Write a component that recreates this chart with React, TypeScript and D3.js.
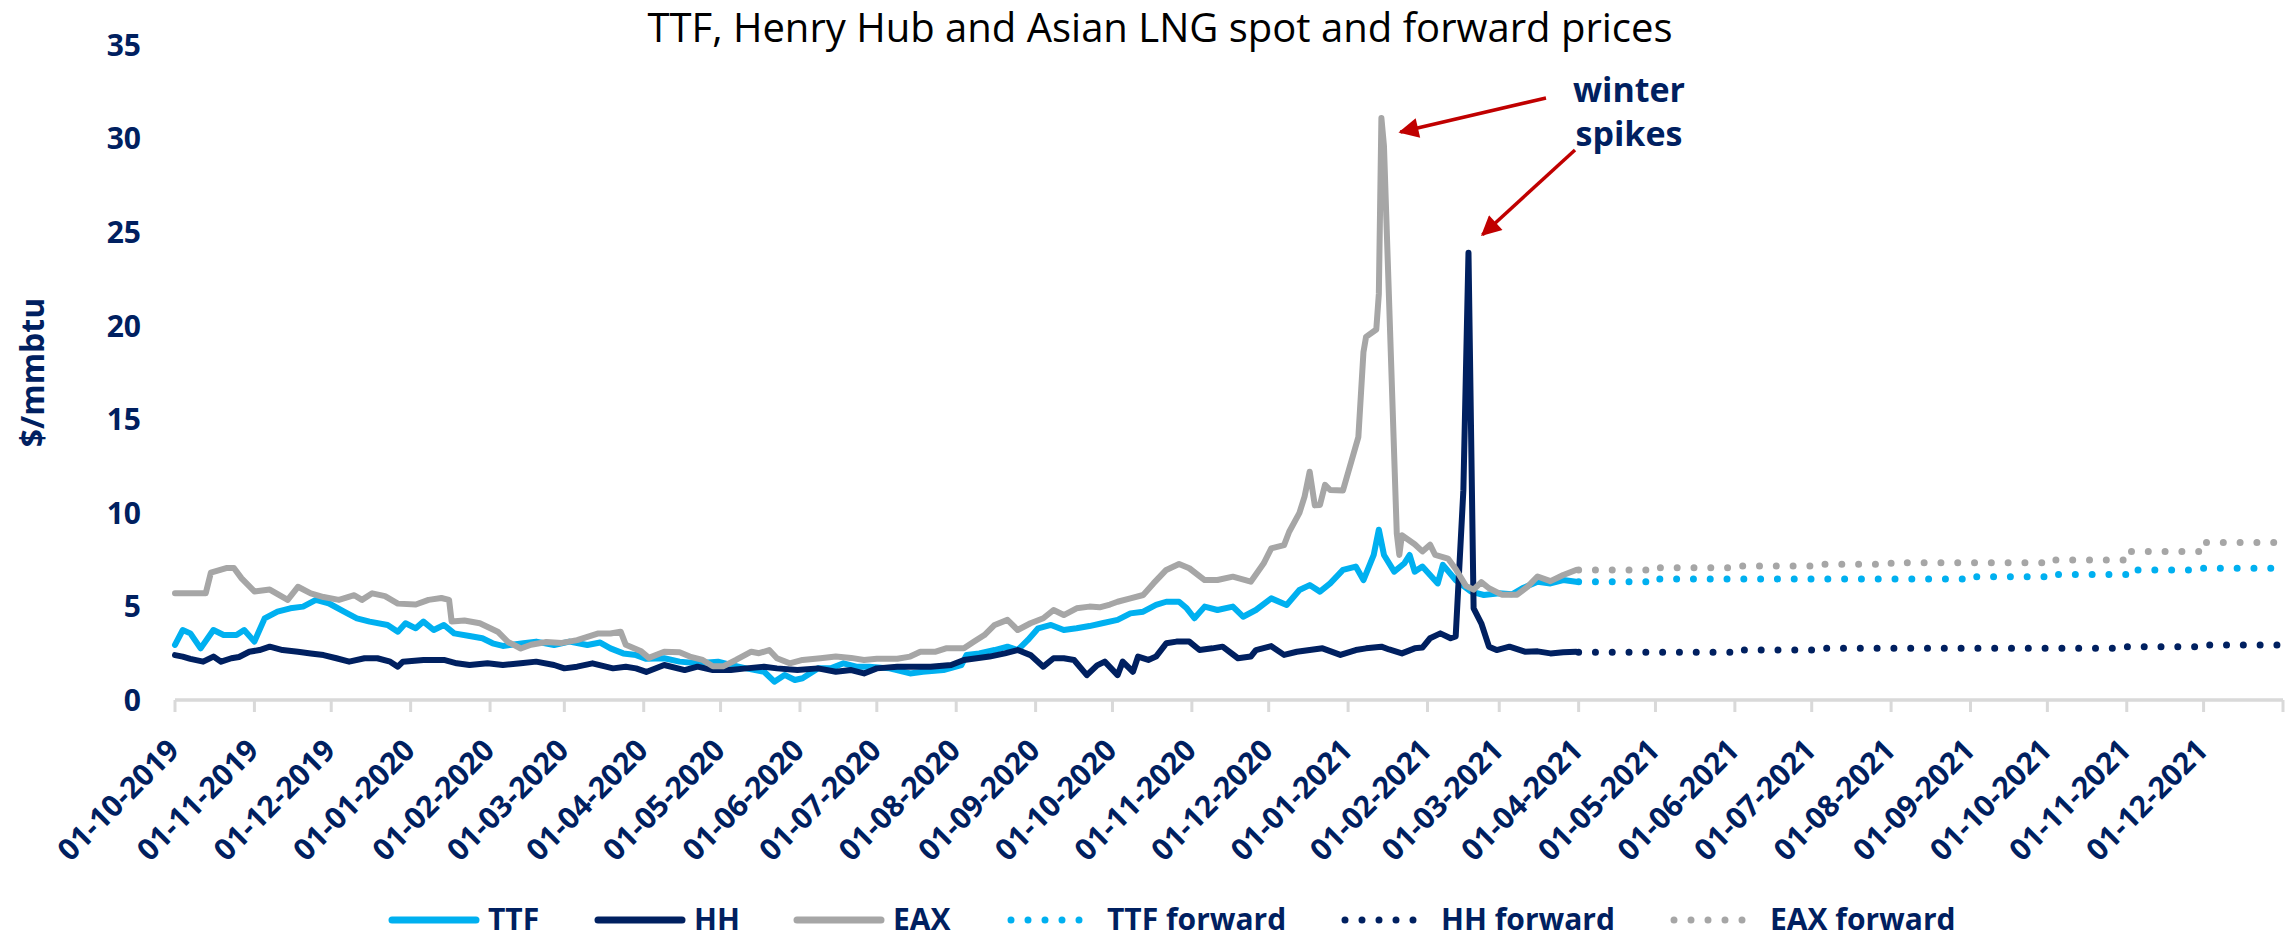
import React from 'react';
import * as d3 from 'd3';

// ---------- DATA ----------
const ttfSpot: [string, number][] = [
  ['2019-10-01', 2.94], ['2019-10-04', 3.74], ['2019-10-07', 3.56], ['2019-10-11', 2.76], ['2019-10-16', 3.74],
  ['2019-10-20', 3.47], ['2019-10-25', 3.47], ['2019-10-28', 3.74], ['2019-11-01', 3.12], ['2019-11-05', 4.36],
  ['2019-11-10', 4.72], ['2019-11-15', 4.9], ['2019-11-20', 4.99], ['2019-11-25', 5.35], ['2019-11-30', 5.17],
  ['2019-12-06', 4.72], ['2019-12-11', 4.36], ['2019-12-16', 4.19], ['2019-12-23', 4.01], ['2019-12-27', 3.65],
  ['2019-12-30', 4.1], ['2020-01-03', 3.83], ['2020-01-06', 4.19], ['2020-01-10', 3.74], ['2020-01-14', 4.01],
  ['2020-01-18', 3.56], ['2020-01-24', 3.42], ['2020-01-29', 3.3], ['2020-02-02', 3.03], ['2020-02-06', 2.89],
  ['2020-02-14', 3.03], ['2020-02-19', 3.12], ['2020-02-26', 2.94], ['2020-03-03', 3.12], ['2020-03-10', 2.94],
  ['2020-03-15', 3.07], ['2020-03-19', 2.76], ['2020-03-24', 2.49], ['2020-03-29', 2.4], ['2020-04-02', 2.2],
  ['2020-04-09', 2.23], ['2020-04-15', 2.05], ['2020-04-22', 1.96], ['2020-04-30', 2.05], ['2020-05-05', 1.87],
  ['2020-05-11', 1.69], ['2020-05-18', 1.51], ['2020-05-22', 0.98], ['2020-05-26', 1.34], ['2020-05-30', 1.07],
  ['2020-06-02', 1.16], ['2020-06-08', 1.69], ['2020-06-13', 1.69], ['2020-06-18', 1.96], ['2020-06-23', 1.78],
  ['2020-06-28', 1.78], ['2020-07-06', 1.69], ['2020-07-14', 1.42], ['2020-07-19', 1.51], ['2020-07-27', 1.6],
  ['2020-08-03', 1.87], ['2020-08-05', 2.4], ['2020-08-10', 2.49], ['2020-08-16', 2.67], ['2020-08-21', 2.85],
  ['2020-08-25', 2.67], ['2020-08-29', 3.21], ['2020-09-02', 3.83], ['2020-09-07', 4.01], ['2020-09-12', 3.74],
  ['2020-09-17', 3.83], ['2020-09-22', 3.95], ['2020-09-27', 4.1], ['2020-10-03', 4.28], ['2020-10-08', 4.63],
  ['2020-10-13', 4.72], ['2020-10-18', 5.08], ['2020-10-22', 5.25], ['2020-10-27', 5.25], ['2020-10-30', 4.9],
  ['2020-11-02', 4.37], ['2020-11-06', 4.99], ['2020-11-11', 4.81], ['2020-11-17', 4.99], ['2020-11-21', 4.45],
  ['2020-11-26', 4.81], ['2020-12-02', 5.43], ['2020-12-08', 5.08], ['2020-12-13', 5.88], ['2020-12-17', 6.14],
  ['2020-12-21', 5.79], ['2020-12-25', 6.23], ['2020-12-30', 6.95], ['2021-01-04', 7.13], ['2021-01-07', 6.41],
  ['2021-01-11', 7.75], ['2021-01-13', 9.1], ['2021-01-15', 7.75], ['2021-01-19', 6.86], ['2021-01-23', 7.31],
  ['2021-01-25', 7.75], ['2021-01-27', 6.86], ['2021-01-30', 7.13], ['2021-02-05', 6.23], ['2021-02-07', 7.22],
  ['2021-02-12', 6.41], ['2021-02-18', 5.79], ['2021-02-23', 5.61], ['2021-03-01', 5.7], ['2021-03-06', 5.65],
  ['2021-03-10', 5.97], ['2021-03-16', 6.32], ['2021-03-21', 6.23], ['2021-03-26', 6.41], ['2021-03-31', 6.32],
];

const hhSpot: [string, number][] = [
  ['2019-10-01', 2.4], ['2019-10-04', 2.32], ['2019-10-07', 2.2], ['2019-10-12', 2.05], ['2019-10-16', 2.32],
  ['2019-10-19', 2.05], ['2019-10-23', 2.23], ['2019-10-26', 2.3], ['2019-10-30', 2.58], ['2019-11-03', 2.67],
  ['2019-11-07', 2.85], ['2019-11-12', 2.67], ['2019-11-18', 2.58], ['2019-11-23', 2.49], ['2019-11-28', 2.4],
  ['2019-12-03', 2.23], ['2019-12-08', 2.05], ['2019-12-14', 2.23], ['2019-12-19', 2.23], ['2019-12-24', 2.05],
  ['2019-12-27', 1.78], ['2019-12-29', 2.05], ['2020-01-06', 2.14], ['2020-01-14', 2.14], ['2020-01-19', 1.96],
  ['2020-01-24', 1.87], ['2020-01-31', 1.96], ['2020-02-06', 1.87], ['2020-02-13', 1.96], ['2020-02-19', 2.05],
  ['2020-02-26', 1.87], ['2020-03-01', 1.69], ['2020-03-06', 1.78], ['2020-03-12', 1.96], ['2020-03-20', 1.69],
  ['2020-03-25', 1.78], ['2020-03-29', 1.69], ['2020-04-02', 1.5], ['2020-04-09', 1.87], ['2020-04-17', 1.6],
  ['2020-04-22', 1.78], ['2020-04-28', 1.6], ['2020-05-05', 1.6], ['2020-05-11', 1.69], ['2020-05-18', 1.78],
  ['2020-05-23', 1.69], ['2020-05-31', 1.6], ['2020-06-08', 1.69], ['2020-06-15', 1.51], ['2020-06-21', 1.6],
  ['2020-06-26', 1.42], ['2020-07-01', 1.69], ['2020-07-09', 1.78], ['2020-07-17', 1.78], ['2020-07-22', 1.78],
  ['2020-07-30', 1.87], ['2020-08-04', 2.14], ['2020-08-09', 2.23], ['2020-08-14', 2.32], ['2020-08-20', 2.49],
  ['2020-08-25', 2.67], ['2020-08-30', 2.4], ['2020-09-04', 1.78], ['2020-09-08', 2.23], ['2020-09-12', 2.23],
  ['2020-09-16', 2.14], ['2020-09-21', 1.33], ['2020-09-25', 1.85], ['2020-09-28', 2.05], ['2020-10-03', 1.33],
  ['2020-10-05', 2.05], ['2020-10-09', 1.51], ['2020-10-11', 2.32], ['2020-10-15', 2.14], ['2020-10-18', 2.32],
  ['2020-10-22', 3.03], ['2020-10-26', 3.12], ['2020-10-31', 3.12], ['2020-11-04', 2.67], ['2020-11-09', 2.76],
  ['2020-11-13', 2.85], ['2020-11-19', 2.23], ['2020-11-24', 2.32], ['2020-11-26', 2.67], ['2020-12-02', 2.88],
  ['2020-12-07', 2.41], ['2020-12-12', 2.58], ['2020-12-17', 2.67], ['2020-12-22', 2.76], ['2020-12-29', 2.41],
  ['2021-01-04', 2.67], ['2021-01-08', 2.76], ['2021-01-14', 2.85], ['2021-01-17', 2.7], ['2021-01-22', 2.49],
  ['2021-01-27', 2.76], ['2021-01-30', 2.8], ['2021-02-02', 3.3], ['2021-02-06', 3.56], ['2021-02-10', 3.3],
  ['2021-02-12', 3.4], ['2021-02-15', 11.2], ['2021-02-17', 23.9], ['2021-02-19', 4.9], ['2021-02-22', 4.1],
  ['2021-02-25', 2.85], ['2021-02-28', 2.67], ['2021-03-05', 2.85], ['2021-03-11', 2.58], ['2021-03-16', 2.6],
  ['2021-03-21', 2.49], ['2021-03-26', 2.55], ['2021-03-31', 2.58],
];

const eaxSpot: [string, number][] = [
  ['2019-10-01', 5.7], ['2019-10-13', 5.7], ['2019-10-15', 6.8], ['2019-10-21', 7.05], ['2019-10-24', 7.05],
  ['2019-10-27', 6.5], ['2019-11-01', 5.8], ['2019-11-07', 5.9], ['2019-11-14', 5.35], ['2019-11-18', 6.05],
  ['2019-11-23', 5.7], ['2019-11-28', 5.5], ['2019-12-04', 5.35], ['2019-12-10', 5.6], ['2019-12-13', 5.35],
  ['2019-12-17', 5.7], ['2019-12-22', 5.55], ['2019-12-27', 5.15], ['2020-01-03', 5.1], ['2020-01-08', 5.35],
  ['2020-01-13', 5.45], ['2020-01-16', 5.35], ['2020-01-17', 4.2], ['2020-01-22', 4.25], ['2020-01-28', 4.1],
  ['2020-02-04', 3.65], ['2020-02-08', 3.1], ['2020-02-13', 2.75], ['2020-02-17', 2.95], ['2020-02-23', 3.1],
  ['2020-02-29', 3.05], ['2020-03-06', 3.2], ['2020-03-14', 3.55], ['2020-03-19', 3.55], ['2020-03-23', 3.65],
  ['2020-03-25', 2.95], ['2020-03-31', 2.6], ['2020-04-03', 2.25], ['2020-04-09', 2.58], ['2020-04-15', 2.55],
  ['2020-04-19', 2.32], ['2020-04-24', 2.14], ['2020-04-28', 1.8], ['2020-05-02', 1.8], ['2020-05-07', 2.14],
  ['2020-05-13', 2.58], ['2020-05-16', 2.5], ['2020-05-20', 2.67], ['2020-05-23', 2.23], ['2020-05-28', 1.96],
  ['2020-06-02', 2.14], ['2020-06-09', 2.23], ['2020-06-15', 2.32], ['2020-06-21', 2.25], ['2020-06-26', 2.14],
  ['2020-07-01', 2.2], ['2020-07-09', 2.2], ['2020-07-14', 2.32], ['2020-07-18', 2.58], ['2020-07-24', 2.58],
  ['2020-07-28', 2.76], ['2020-08-04', 2.76], ['2020-08-08', 3.12], ['2020-08-12', 3.47], ['2020-08-16', 4.01],
  ['2020-08-21', 4.28], ['2020-08-25', 3.74], ['2020-08-30', 4.1], ['2020-09-04', 4.37], ['2020-09-08', 4.81],
  ['2020-09-12', 4.54], ['2020-09-17', 4.9], ['2020-09-22', 4.99], ['2020-09-26', 4.95], ['2020-09-30', 5.1],
  ['2020-10-03', 5.25], ['2020-10-08', 5.43], ['2020-10-13', 5.61], ['2020-10-17', 6.23], ['2020-10-22', 6.95],
  ['2020-10-27', 7.27], ['2020-10-31', 7.04], ['2020-11-06', 6.41], ['2020-11-11', 6.41], ['2020-11-17', 6.59],
  ['2020-11-24', 6.32], ['2020-11-29', 7.29], ['2020-12-02', 8.1], ['2020-12-07', 8.28], ['2020-12-09', 8.99],
  ['2020-12-13', 10.0], ['2020-12-15', 10.87], ['2020-12-17', 12.2], ['2020-12-19', 10.4], ['2020-12-21', 10.42],
  ['2020-12-23', 11.5], ['2020-12-25', 11.22], ['2020-12-30', 11.2], ['2021-01-05', 14.05], ['2021-01-07', 18.6],
  ['2021-01-08', 19.4], ['2021-01-12', 19.8], ['2021-01-13', 21.7], ['2021-01-14', 31.1], ['2021-01-15', 29.6],
  ['2021-01-20', 8.9], ['2021-01-21', 7.75], ['2021-01-22', 8.8], ['2021-01-27', 8.32], ['2021-01-30', 7.94],
  ['2021-02-02', 8.3], ['2021-02-04', 7.75], ['2021-02-09', 7.56], ['2021-02-12', 7.0], ['2021-02-16', 6.1],
  ['2021-02-19', 5.9], ['2021-02-22', 6.3], ['2021-02-25', 5.97], ['2021-03-02', 5.63], ['2021-03-08', 5.63],
  ['2021-03-12', 6.05], ['2021-03-16', 6.6], ['2021-03-21', 6.35], ['2021-03-26', 6.68], ['2021-03-31', 6.95],
];

const forwardMonths = [
  '2021-04-01', '2021-05-01', '2021-06-01', '2021-07-01', '2021-08-01',
  '2021-09-01', '2021-10-01', '2021-11-01', '2021-12-01', '2022-01-01',
];
const ttfForward = [6.32, 6.47, 6.47, 6.47, 6.47, 6.59, 6.71, 6.95, 7.04, 7.04];
const hhForward = [2.55, 2.55, 2.67, 2.76, 2.76, 2.76, 2.76, 2.85, 2.94, 2.94];
const eaxForward = [6.95, 7.07, 7.16, 7.25, 7.34, 7.34, 7.48, 7.93, 8.41, 8.41];

const yTicks = [0, 5, 10, 15, 20, 25, 30, 35];
const axisStart = '2019-10-01';
const axisEnd = '2022-01-01';

const TITLE = 'TTF, Henry Hub and Asian LNG spot and forward prices';
const Y_TITLE = '$/mmbtu';
const NOTE_LINES = ['winter', 'spikes'];

const SKY = '#00b0f0';
const NAVY = '#002060';
const GREY = '#a6a6a6';
const RED = '#c00000';
const AXIS_GREY = '#d9d9d9';

const legendItems = [
  { label: 'TTF', color: SKY, dotted: false },
  { label: 'HH', color: NAVY, dotted: false },
  { label: 'EAX', color: GREY, dotted: false },
  { label: 'TTF forward', color: SKY, dotted: true },
  { label: 'HH forward', color: NAVY, dotted: true },
  { label: 'EAX forward', color: GREY, dotted: true },
];

// ---------- LAYOUT ----------
const W = 2295;
const H = 939;
const PLOT_LEFT = 175;
const PLOT_RIGHT = 2283;
const PLOT_TOP = 45;
const PLOT_BOTTOM = 700;
const FONT = "'Open Sans', 'Noto Sans', sans-serif";
const LEGEND_X = [388, 594, 793, 1007, 1341, 1670];
const LEGEND_Y = 920;
const LEGEND_SAMPLE = 92;

export default function App() {
  React.useEffect(() => {
    document.body.style.margin = '0';
  }, []);

  const parse = d3.utcParse('%Y-%m-%d');
  const x = d3
    .scaleUtc()
    .domain([parse(axisStart) as Date, parse(axisEnd) as Date])
    .range([PLOT_LEFT, PLOT_RIGHT]);
  const y = d3.scaleLinear().domain([0, 35]).range([PLOT_BOTTOM, PLOT_TOP]);

  type Pt = [Date, number];
  const toPts = (arr: [string, number][]): Pt[] => arr.map(([d, v]) => [parse(d) as Date, v]);
  const fwdPts = (vals: number[]): Pt[] => forwardMonths.map((d, i) => [parse(d) as Date, vals[i]]);

  const line = d3
    .line<Pt>()
    .x((d) => x(d[0]))
    .y((d) => y(d[1]));
  const stepLine = d3
    .line<Pt>()
    .x((d) => x(d[0]))
    .y((d) => y(d[1]))
    .curve(d3.curveStepAfter);

  const ticks = d3.utcMonth.range(x.domain()[0], d3.utcDay.offset(x.domain()[1], 1));
  const fmt = d3.utcFormat('%d-%m-%Y');

  const eaxPts = toPts(eaxSpot);
  const hhPts = toPts(hhSpot);
  const ttfPts = toPts(ttfSpot);
  const eaxPeak = d3.greatest(eaxPts, (d) => d[1]) as Pt;
  const hhPeak = d3.greatest(hhPts, (d) => d[1]) as Pt;
  const tip1: [number, number] = [x(eaxPeak[0]) + 19, y(eaxPeak[1]) + 14];
  const tip2: [number, number] = [x(hhPeak[0]) + 14, y(hhPeak[1]) - 18];
  const noteX = 1629;

  const solid = { fill: 'none', strokeWidth: 6, strokeLinejoin: 'round' as const, strokeLinecap: 'round' as const };
  const dotted = { fill: 'none', strokeWidth: 7, strokeLinecap: 'round' as const, strokeDasharray: '0 16.8' };

  return (
    <div style={{ position: 'absolute', left: 0, top: 0 }}>
      <svg width={W} height={H} style={{ display: 'block', background: '#fff' }} fontFamily={FONT}>
        <defs>
          <marker
            id="arrowhead"
            viewBox="0 0 10 10"
            refX="9"
            refY="5"
            markerWidth="22"
            markerHeight="20"
            markerUnits="userSpaceOnUse"
            orient="auto"
          >
            <path d="M0,0 L10,5 L0,10 z" fill={RED} />
          </marker>
        </defs>

        {/* Title */}
        <text x={1160} y={42} textAnchor="middle" fontSize={40} fill="#000">
          {TITLE}
        </text>

        {/* Y axis labels */}
        {yTicks.map((t) => (
          <text key={t} x={141} y={y(t)} dy="0.36em" textAnchor="end" fontSize={30} fontWeight={700} fill={NAVY}>
            {t}
          </text>
        ))}
        <text
          transform={`translate(33, ${(PLOT_TOP + PLOT_BOTTOM) / 2}) rotate(-90)`}
          textAnchor="middle"
          dy="0.35em"
          fontSize={32}
          fontWeight={700}
          fill={NAVY}
        >
          {Y_TITLE}
        </text>

        {/* X axis */}
        <line x1={PLOT_LEFT} x2={PLOT_RIGHT} y1={PLOT_BOTTOM} y2={PLOT_BOTTOM} stroke={AXIS_GREY} strokeWidth={3.5} />
        {ticks.map((t, i) => (
          <g key={i}>
            <line x1={x(t)} x2={x(t)} y1={PLOT_BOTTOM} y2={PLOT_BOTTOM + 12} stroke={AXIS_GREY} strokeWidth={3} />
            {i < ticks.length - 1 && (
              <text
                transform={`translate(${x(t) + 6}, 752) rotate(-45)`}
                textAnchor="end"
                fontSize={30}
                fontWeight={700}
                fill={NAVY}
              >
                {fmt(t)}
              </text>
            )}
          </g>
        ))}

        {/* Forward curves */}
        <path d={stepLine(fwdPts(ttfForward)) || ''} stroke={SKY} {...dotted} />
        <path d={stepLine(fwdPts(hhForward)) || ''} stroke={NAVY} {...dotted} />
        <path d={stepLine(fwdPts(eaxForward)) || ''} stroke={GREY} {...dotted} />

        {/* Spot series */}
        <path d={line(ttfPts) || ''} stroke={SKY} {...solid} />
        <path d={line(hhPts) || ''} stroke={NAVY} {...solid} />
        <path d={line(eaxPts) || ''} stroke={GREY} {...solid} />

        {/* Annotation */}
        {NOTE_LINES.map((s, i) => (
          <text key={s} x={noteX} y={102 + i * 44} textAnchor="middle" fontSize={34} fontWeight={700} fill={NAVY}>
            {s}
          </text>
        ))}
        <line
          x1={1546}
          y1={98}
          x2={tip1[0]}
          y2={tip1[1]}
          stroke={RED}
          strokeWidth={3.5}
          markerEnd="url(#arrowhead)"
        />
        <line
          x1={1575}
          y1={150}
          x2={tip2[0]}
          y2={tip2[1]}
          stroke={RED}
          strokeWidth={3.5}
          markerEnd="url(#arrowhead)"
        />

        {/* Legend */}
        {legendItems.map((it, i) => {
          const lx = LEGEND_X[i];
          return (
            <g key={it.label}>
              <line
                x1={lx + 4}
                x2={lx + LEGEND_SAMPLE - 4}
                y1={LEGEND_Y}
                y2={LEGEND_Y}
                stroke={it.color}
                strokeWidth={7}
                strokeLinecap="round"
                strokeDasharray={it.dotted ? '0 17' : undefined}
              />
              <text x={lx + LEGEND_SAMPLE + 8} y={LEGEND_Y + 10} fontSize={30} fontWeight={700} fill={NAVY}>
                {it.label}
              </text>
            </g>
          );
        })}
      </svg>
    </div>
  );
}
